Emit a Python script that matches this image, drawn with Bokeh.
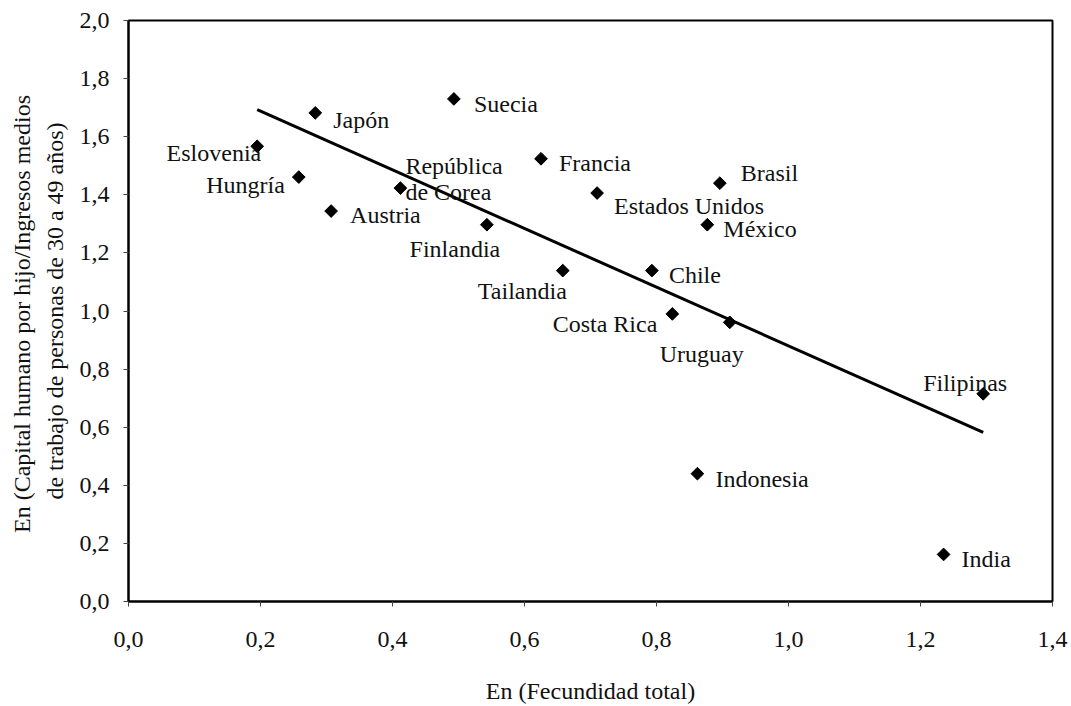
from bokeh.plotting import figure
from bokeh.models import ColumnDataSource, Range1d, FixedTicker
from bokeh.core.properties import value
from bokeh.embed import file_html
from bokeh.resources import INLINE

# ---- data ----
countries = ["Eslovenia", "Japón", "Suecia", "Hungría", "República\nde Corea", "Austria",
             "Finlandia", "Francia", "Brasil", "Estados Unidos", "México", "Tailandia",
             "Chile", "Costa Rica", "Uruguay", "Filipinas", "Indonesia", "India"]
log_fertility = [0.195, 0.283, 0.493, 0.258, 0.412, 0.307, 0.543, 0.625, 0.896, 0.710,
                 0.877, 0.658, 0.793, 0.824, 0.911, 1.295, 0.862, 1.235]
log_human_capital = [1.567, 1.682, 1.730, 1.461, 1.423, 1.344, 1.297, 1.524, 1.440, 1.406,
                     1.297, 1.139, 1.139, 0.990, 0.961, 0.715, 0.440, 0.162]

trend_intercept = 1.890
trend_slope = -1.010

x_ticks = [0.0, 0.2, 0.4, 0.6, 0.8, 1.0, 1.2, 1.4]
y_ticks = [0.0, 0.2, 0.4, 0.6, 0.8, 1.0, 1.2, 1.4, 1.6, 1.8, 2.0]
x_tick_labels = ["0,0", "0,2", "0,4", "0,6", "0,8", "1,0", "1,2", "1,4"]
y_tick_labels = ["0,0", "0,2", "0,4", "0,6", "0,8", "1,0", "1,2", "1,4", "1,6", "1,8", "2,0"]

x_title = "En (Fecundidad total)"
y_title = "En (Capital humano por hijo/Ingresos  medios\nde trabajo de personas de 30 a 49 años)"

# ---- label placement (screen px offsets, alignment) ----
label_dx = [4, 18, 20, -14, 5, 19, -32, 18, 21, 17, 16, 4, 17, -15, -28, 24, 18, 18]
label_dy = [7, 7, 5, 8, -9, 4, 24, 4, -10, 13, 4, 20, 4, 10, 32, -11, 5, 5]
label_align = ["right", "left", "left", "right", "left", "left", "center", "left", "left",
               "left", "left", "right", "left", "right", "center", "right", "left", "left"]

FONT = "Liberation Serif"
FS = "24px"

p = figure(width=1071, height=706, output_backend="svg", toolbar_location=None,
           x_range=Range1d(0, 1.4), y_range=Range1d(0, 2.0),
           min_border_left=128, min_border_right=19, min_border_top=20, min_border_bottom=105)
p.background_fill_color = "white"
p.border_fill_color = "white"
p.outline_line_color = "black"
p.outline_line_width = 2
p.xgrid.visible = False
p.ygrid.visible = False

src = ColumnDataSource(dict(x=log_fertility, y=log_human_capital, name=countries,
                            dx=label_dx, dy=label_dy, align=label_align))

tx = [min(log_fertility), max(log_fertility)]
ty = [trend_intercept + trend_slope * v for v in tx]
p.line(tx, ty, line_color="black", line_width=3)

p.scatter("x", "y", source=src, marker="square", angle=0.7853981634, size=9,
          fill_color="black", line_color="black")

p.text("x", "y", text="name", source=src, x_offset="dx", y_offset="dy",
       text_align="align", text_baseline="middle", text_font=value(FONT),
       text_font_size=FS, text_color="#111111", text_line_height=1.0)

for ax, ticks, labels in ((p.xaxis, x_ticks, x_tick_labels), (p.yaxis, y_ticks, y_tick_labels)):
    ax.ticker = FixedTicker(ticks=ticks)
    ax.major_label_overrides = {t: l for t, l in zip(ticks, labels)}
    ax.axis_line_color = "black"
    ax.axis_line_width = 2
    ax.major_tick_in = 0
    ax.major_tick_out = 5
    ax.major_tick_line_color = "#444444"
    ax.major_tick_line_width = 1
    ax.minor_tick_line_color = None
    ax.major_label_text_font = FONT
    ax.major_label_text_font_size = FS
    ax.major_label_text_color = "#111111"
    ax.axis_label_text_font = FONT
    ax.axis_label_text_font_size = FS
    ax.axis_label_text_font_style = "normal"
    ax.axis_label_text_color = "#111111"

p.xaxis.axis_label = x_title
p.yaxis.axis_label = y_title
p.xaxis.major_label_standoff = 25
p.yaxis.major_label_standoff = 14
p.xaxis.axis_label_standoff = 28
p.yaxis.axis_label_standoff = 9
p.yaxis.axis_label_text_line_height = 1.25

open("out.html", "w").write(file_html(p, INLINE))
